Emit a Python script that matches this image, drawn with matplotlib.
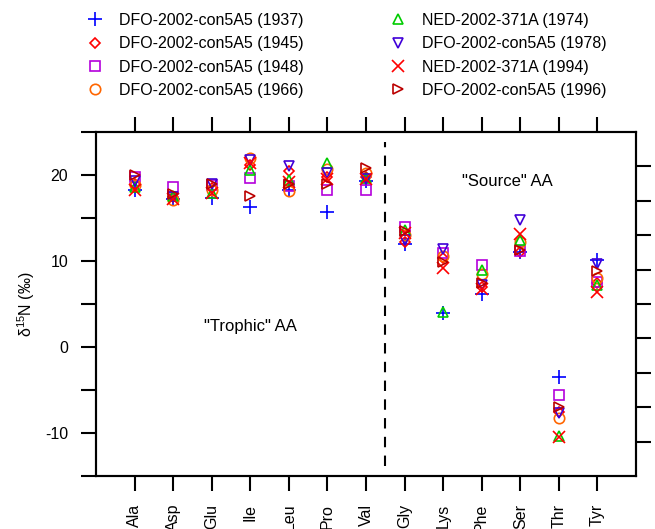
import matplotlib
matplotlib.use("Agg")
import matplotlib.pyplot as plt

plt.rcParams['font.family'] = ['Liberation Sans', 'DejaVu Sans']
plt.rcParams['mathtext.fontset'] = 'custom'
plt.rcParams['mathtext.rm'] = 'Liberation Sans'

categories = ["Ala", "Asp", "Glu", "Ile", "Leu", "Pro", "Val",
              "Gly", "Lys", "Phe", "Ser", "Thr", "Tyr"]

s1937 = [18.3, 17.2, 17.3, 16.3, 18.3, 15.7, 19.3, 12.0, 4.0, 6.2, 11.0, -3.5, 10.1]
s1945 = [19.0, 17.4, 18.5, 21.2, 20.5, 19.8, 19.8, 12.2, 10.3, 7.0, 11.0, -7.5, 7.4]
s1948 = [19.8, 18.6, 18.8, 19.6, 18.7, 18.3, 18.2, 14.0, 10.9, 9.5, 11.2, -5.6, 7.6]
s1966 = [18.8, 17.1, 18.2, 22.0, 18.1, 20.7, 20.2, 13.0, 10.6, 8.5, 12.2, -8.2, 8.0]
s1974 = [18.6, 17.6, 17.9, 20.6, 19.4, 21.4, 19.6, 13.6, 4.1, 9.0, 12.4, -10.3, 7.2]
s1978 = [19.3, 17.5, 19.0, 21.8, 21.0, 20.2, 19.5, 12.4, 11.4, 7.2, 14.8, -7.7, 9.6]
s1994 = [18.3, 17.2, 17.9, 21.4, 19.2, 19.5, 19.5, 13.2, 9.2, 6.8, 13.1, -10.5, 6.4]
s1996 = [20.0, 17.8, 18.9, 17.6, 18.9, 19.0, 20.8, 13.5, 9.9, 7.5, 11.3, -7.0, 8.8]

series_labels = ["DFO-2002-con5A5 (1937)", "DFO-2002-con5A5 (1945)",
                 "DFO-2002-con5A5 (1948)", "DFO-2002-con5A5 (1966)",
                 "NED-2002-371A (1974)", "DFO-2002-con5A5 (1978)",
                 "NED-2002-371A (1994)", "DFO-2002-con5A5 (1996)"]
series_values = [s1937, s1945, s1948, s1966, s1974, s1978, s1994, s1996]

styles = [
    dict(marker='+', color='#0000ff', ms=10, filled=True),
    dict(marker='D', color='#ff0000', ms=5.5, filled=False),
    dict(marker='s', color='#b400dc', ms=6.5, filled=False),
    dict(marker='o', color='#ff6600', ms=7.5, filled=False),
    dict(marker='^', color='#00cc00', ms=7.5, filled=False),
    dict(marker='v', color='#4000d8', ms=7.5, filled=False),
    dict(marker='x', color='#ff0000', ms=8.5, filled=True),
    dict(marker='>', color='#bb0000', ms=7.5, filled=False),
]

fig = plt.figure(figsize=(6.55, 5.29), dpi=100)
ax = fig.add_axes([96/655, 1-476/529, 540/655, 344/529])

x = list(range(len(categories)))
handles = []
for lab, vals, st in zip(series_labels, series_values, styles):
    kw = dict(linestyle='none', marker=st['marker'], markersize=st['ms'],
              markeredgecolor=st['color'], markeredgewidth=1.2)
    if st['filled']:
        kw['color'] = st['color']
    else:
        kw['markerfacecolor'] = 'none'
    h, = ax.plot(x, vals, label=lab, **kw)
    handles.append(h)

ax.plot([6.5, 6.5], [-13.8, 23.8], color='black', linestyle=(0, (5, 4)), linewidth=1.5)

ax.set_xlim(-1, 13)
ax.set_ylim(-15, 25)

ax.set_xticks(x)
ax.set_xticklabels(categories, rotation=90, fontsize=11.5)
ax.set_yticks([-15, -10, -5, 0, 5, 10, 15, 20, 25])
ax.set_yticklabels(['', '-10', '', '0', '', '10', '', '20', ''], fontsize=11.5)
ax.tick_params(axis='both', direction='out', length=11, width=1.5)
ax.tick_params(axis='x', top=True, labeltop=False, pad=9)
ax.tick_params(axis='y', pad=9)
for sp in ax.spines.values():
    sp.set_linewidth(1.5)

ax2 = ax.twinx()
ax2.set_ylim(-15, 25)
ax2.set_yticks([-11, -7, -3, 1, 5, 9, 13, 17, 21])
ax2.set_yticklabels([])
ax2.tick_params(axis='y', direction='out', length=11, width=1.5)
for sp in ax2.spines.values():
    sp.set_linewidth(1.5)

ax.set_ylabel('δ$^{\\mathregular{15}}$N (‰)', fontsize=11.5, labelpad=6)

ax.text(3, 2.4, '"Trophic" AA', ha='center', va='center', fontsize=12)
ax.text(9.66, 19.2, '"Source" AA', ha='center', va='center', fontsize=12)

fig.legend(handles=handles, labels=series_labels, ncol=2, frameon=False,
           loc='upper left', bbox_to_anchor=(87/655, 1-13/529),
           borderaxespad=0, borderpad=0, handlelength=1.0, handletextpad=1.0,
           columnspacing=5.4, labelspacing=0.52, fontsize=11.5)

fig.savefig('out.png', dpi=100)
